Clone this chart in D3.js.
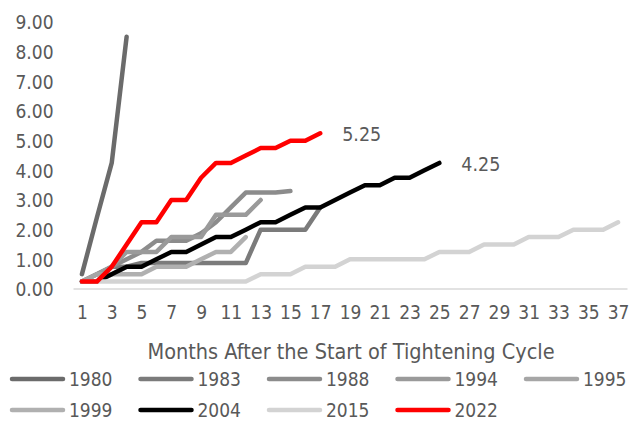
<!DOCTYPE html>
<html>
<head>
<meta charset="utf-8">
<script src="https://cdn.jsdelivr.net/npm/d3@7"></script>
<style>
  html, body { margin: 0; padding: 0; background: #fff; }
  svg text { font-family: "DejaVu Sans Condensed", "DejaVu Sans", sans-serif; fill: #595959; }
</style>
</head>
<body>
<svg id="chart" width="630" height="423"></svg>
<script>
// Cumulative rate increase (percentage points) by month after the first hike
const months = d3.range(1, 38);
const tickMonths = months.filter(m => m % 2 === 1);
const yTicks = [0, 1, 2, 3, 4, 5, 6, 7, 8, 9];

const cycles = ["1980", "1983", "1988", "1994", "1995", "1999", "2004", "2015", "2022"];
const colors = ["#6b6b6b", "#7b7b7b", "#8c8c8c", "#9a9a9a", "#a6a6a6", "#b0b0b0", "#000000", "#d3d3d3", "#ff0000"];

const v1980 = [0.5, 2.4, 4.25, 8.5];
const v1983 = [0.25, 0.5, 0.75, 0.75, 0.875, 0.875, 0.875, 0.875, 0.875, 0.875, 0.875, 0.875, 2.0, 2.0, 2.0, 2.0, 2.75];
const v1988 = [0.25, 0.25, 0.75, 1.0, 1.25, 1.625, 1.625, 1.625, 1.875, 2.25, 2.75, 3.25, 3.25, 3.25, 3.3];
const v1994 = [0.25, 0.5, 0.75, 1.25, 1.25, 1.25, 1.75, 1.75, 1.75, 2.5, 2.5, 2.5, 3.0];
const v1995 = [0.25, 0.5, 0.5, 0.75];
const v1999 = [0.25, 0.25, 0.5, 0.5, 0.5, 0.75, 0.75, 0.75, 1.0, 1.25, 1.25, 1.75];
const v2004 = [0.25, 0.25, 0.5, 0.75, 0.75, 1.0, 1.25, 1.25, 1.5, 1.75, 1.75, 2.0, 2.25, 2.25, 2.5, 2.75, 2.75, 3.0, 3.25, 3.5, 3.5, 3.75, 3.75, 4.0, 4.25];
const v2015 = [0.25, 0.25, 0.25, 0.25, 0.25, 0.25, 0.25, 0.25, 0.25, 0.25, 0.25, 0.25, 0.5, 0.5, 0.5, 0.75, 0.75, 0.75, 1.0, 1.0, 1.0, 1.0, 1.0, 1.0, 1.25, 1.25, 1.25, 1.5, 1.5, 1.5, 1.75, 1.75, 1.75, 2.0, 2.0, 2.0, 2.25];
const v2022 = [0.25, 0.25, 0.75, 1.5, 2.25, 2.25, 3.0, 3.0, 3.75, 4.25, 4.25, 4.5, 4.75, 4.75, 5.0, 5.0, 5.25];

const seriesValues = [v1980, v1983, v1988, v1994, v1995, v1999, v2004, v2015, v2022];
// End-of-line value labels
const endLabels = [{ cycle: "2022", text: "5.25" }, { cycle: "2004", text: "4.25" }];

const svg = d3.select("#chart");
const plot = { left: 74.5, right: 625.5, top: 22, bottom: 289 };

const x = d3.scalePoint().domain(months).range([plot.left, plot.right]).padding(0.5);
const y = d3.scaleLinear().domain([0, 9]).range([plot.bottom, plot.top]);

// Y axis labels (no axis line, no gridlines)
const yAxis = svg.append("g")
  .attr("transform", `translate(${plot.left - 21},0)`)
  .call(d3.axisLeft(y).tickValues(yTicks).tickFormat(d3.format(".2f")).tickSize(0).tickPadding(0));
yAxis.select(".domain").remove();
yAxis.selectAll("text").style("font-size", "19px").attr("dy", "0.36em");

// X axis baseline and labels
svg.append("line")
  .attr("x1", plot.left - 1).attr("x2", plot.right + 2)
  .attr("y1", y(0)).attr("y2", y(0))
  .attr("stroke", "#d9d9d9").attr("stroke-width", 1.5);

const xAxis = svg.append("g")
  .attr("transform", `translate(0,${y(0)})`)
  .call(d3.axisBottom(x).tickValues(tickMonths).tickSize(0).tickPadding(17));
xAxis.select(".domain").remove();
xAxis.selectAll("text").style("font-size", "19px");

svg.append("text")
  .attr("x", (plot.left + plot.right) / 2 + 1)
  .attr("y", 359)
  .attr("text-anchor", "middle")
  .style("font-size", "21.5px")
  .text("Months After the Start of Tightening Cycle");

// Lines
const line = d3.line()
  .x((d, i) => x(months[i]))
  .y(d => y(d));

svg.append("g").selectAll("path")
  .data(seriesValues)
  .join("path")
  .attr("d", d => line(d))
  .attr("fill", "none")
  .attr("stroke", (d, i) => colors[i])
  .attr("stroke-width", 4.5)
  .attr("stroke-linejoin", "round")
  .attr("stroke-linecap", "round");

// End labels
endLabels.forEach(l => {
  const vals = seriesValues[cycles.indexOf(l.cycle)];
  const last = vals.length - 1;
  svg.append("text")
    .attr("x", x(months[last]) + 22)
    .attr("y", y(vals[last]) + 1)
    .attr("dy", "0.36em")
    .style("font-size", "19.5px")
    .text(l.text);
});

// Legend: two rows of five
const legend = svg.append("g");
cycles.forEach((c, i) => {
  const col = i % 5, row = Math.floor(i / 5);
  const gx = 10 + col * 128.5, gy = 379 + row * 31;
  legend.append("line")
    .attr("x1", gx + 2).attr("x2", gx + 53)
    .attr("y1", gy).attr("y2", gy)
    .attr("stroke", colors[i]).attr("stroke-width", 4.5)
    .attr("stroke-linecap", "round");
  legend.append("text")
    .attr("x", gx + 59).attr("y", gy)
    .attr("dy", "0.36em")
    .style("font-size", "19px")
    .text(c);
});
</script>
</body>
</html>
